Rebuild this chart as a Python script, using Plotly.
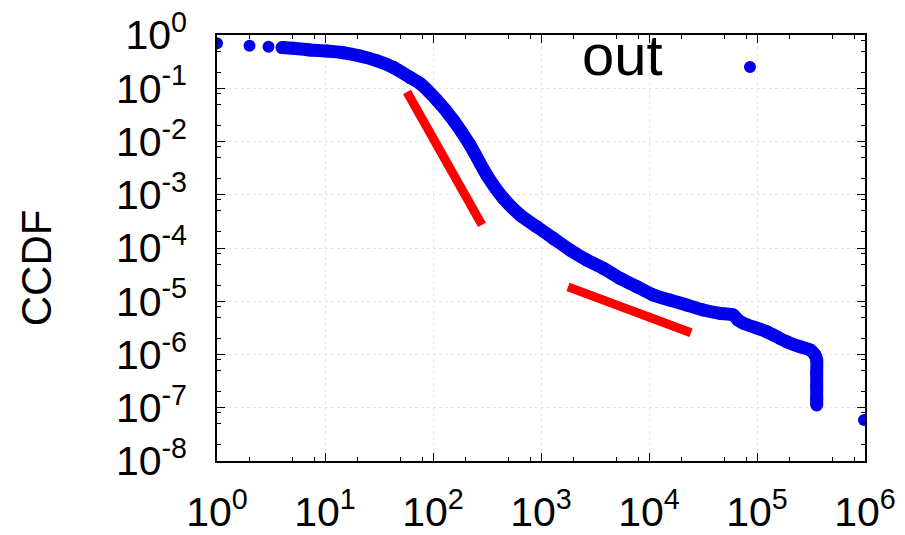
import plotly.graph_objects as go

# leading isolated points (x = 1..4)
head_x = [1, 2, 3, 4]
head_y = [0.70, 0.63, 0.60, 0.58]

# dense CCDF body
curve_x = [4, 5.09, 7.26, 10.4, 14.8, 21.1, 30.1, 42.9, 61.2, 75.8, 108, 154, 220, 314, 448,
           639, 912, 1300, 1857, 2650, 3776, 5387, 7690, 10960, 15640, 22320, 31840, 45400,
           60400, 66700, 74700, 123000, 188000, 250000, 310000, 344000, 357000, 357000,
           357000, 357000, 357000]
curve_y = [0.58, 0.562, 0.523, 0.501, 0.465, 0.403, 0.330, 0.247, 0.160, 0.123, 0.0602,
           0.0253, 0.00859, 0.00235, 8.57e-4, 4.17e-4, 2.51e-4, 1.52e-4, 9.16e-5, 5.95e-5,
           4.16e-5, 2.70e-5, 1.88e-5, 1.31e-5, 1.05e-5, 8.5e-6, 6.85e-6, 5.94e-6, 5.52e-6,
           4.45e-6, 3.86e-6, 2.68e-6, 1.74e-6, 1.40e-6, 1.22e-6, 9.8e-7, 7.9e-7, 4.5e-7,
           2.5e-7, 1.5e-7, 1.13e-7]

# last isolated point
tail_x = [979000]
tail_y = [5.9e-8]

# reference slopes (red)
fit1_x = [57.4, 284]
fit1_y = [0.085, 2.72e-4]
fit2_x = [1778, 24500]
fit2_y = [1.86e-5, 2.57e-6]

x_tick_vals = [10 ** k for k in range(0, 7)]
x_tick_text = ["10<sup>%d</sup>" % k for k in range(0, 7)]
y_tick_vals = [10 ** (-k) for k in range(0, 9)]
y_tick_text = ["10<sup>-%d</sup>" % k if k else "10<sup>0</sup>" for k in range(0, 9)]

minor_x = [m * 10 ** k for k in range(0, 6) for m in (2, 5, 8)]
minor_y = [m * 10 ** (-k) for k in range(1, 9) for m in (2, 5, 8)]

blue = "#0000ee"

fig = go.Figure()
fig.add_trace(go.Scatter(x=head_x, y=head_y, mode="markers",
                         marker=dict(color=blue, size=12), showlegend=False))
fig.add_trace(go.Scatter(x=curve_x, y=curve_y, mode="lines+markers",
                         line=dict(color=blue, width=13, shape="spline", smoothing=0.6),
                         marker=dict(color=blue, size=13), showlegend=False))
fig.add_trace(go.Scatter(x=tail_x, y=tail_y, mode="markers",
                         marker=dict(color=blue, size=12), showlegend=False))
fig.add_trace(go.Scatter(x=fit1_x, y=fit1_y, mode="lines",
                         line=dict(color="#ff0000", width=9), showlegend=False))
fig.add_trace(go.Scatter(x=fit2_x, y=fit2_y, mode="lines",
                         line=dict(color="#ff0000", width=9), showlegend=False))

axis_common = dict(
    type="log", showline=True, linecolor="black", linewidth=1.5, mirror="ticks",
    ticks="inside", ticklen=8, tickwidth=1, tickcolor="black",
    showgrid=True, gridcolor="#e6e6e6", gridwidth=1, griddash="dot",
    zeroline=False, tickfont=dict(family="Liberation Sans, Arial", size=41, color="black"),
    tickmode="array", automargin=False,
)

fig.update_xaxes(range=[0, 6], tickvals=x_tick_vals, ticktext=x_tick_text,
                 ticklabelstandoff=14,
                 minor=dict(ticks="inside", ticklen=4, tickcolor="black",
                            tickmode="array", tickvals=minor_x, showgrid=False),
                 **axis_common)
fig.update_yaxes(range=[-8, 0], tickvals=y_tick_vals, ticktext=y_tick_text,
                 ticklabelstandoff=20,
                 minor=dict(ticks="inside", ticklen=4, tickcolor="black",
                            tickmode="array", tickvals=minor_y, showgrid=False),
                 **axis_common)

fig.add_annotation(text="CCDF", xref="paper", yref="paper", x=-0.279, y=0.453,
                   xanchor="center", yanchor="middle", textangle=-90, showarrow=False,
                   font=dict(family="Liberation Sans, Arial", size=42, color="black"))
fig.add_annotation(text="out", xref="paper", yref="paper", x=0.625, y=0.955,
                   xanchor="center", yanchor="middle", showarrow=False,
                   font=dict(family="Liberation Sans, Arial", size=58, color="black"))
fig.add_shape(type="circle", xref="paper", yref="paper", xsizemode="pixel",
              ysizemode="pixel", xanchor=0.8225, yanchor=0.925,
              x0=-6, x1=6, y0=-6, y1=6, fillcolor=blue, line=dict(width=0))

fig.update_layout(
    width=905, height=535, margin=dict(l=217, r=40, t=35, b=74),
    paper_bgcolor="white", plot_bgcolor="white",
)
fig.write_html("out.html")
